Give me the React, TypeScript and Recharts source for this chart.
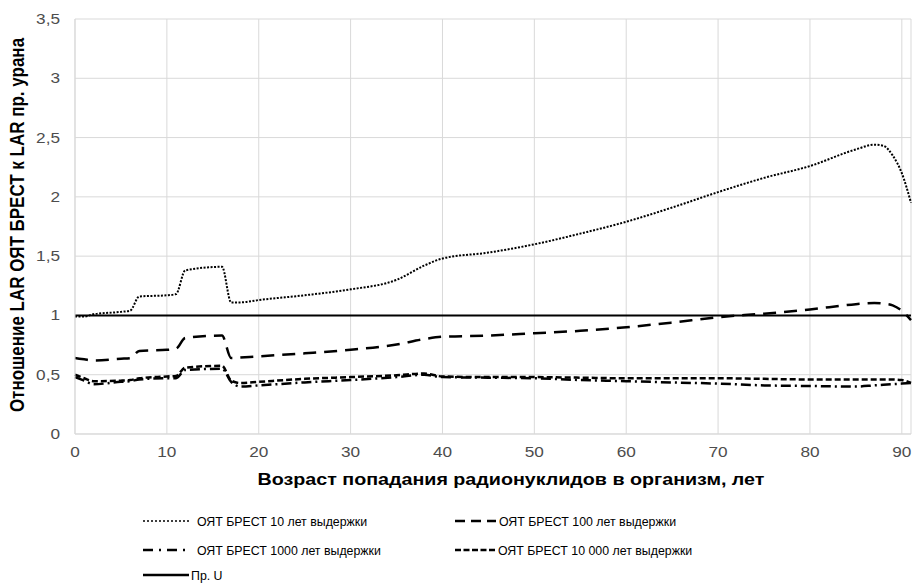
import React from "react";
import { LineChart, Line, XAxis, YAxis, CartesianGrid } from "recharts";

// Age at intake, years
const ages = [0, 1, 2, 5, 6, 7, 10, 11, 12, 16, 17, 18, 20, 25, 30, 35, 38, 40, 45, 50, 55, 60, 65, 70, 75, 80, 85, 87, 88, 89, 90, 91];

const brest10 = [0.99, 0.99, 1.01, 1.03, 1.04, 1.16, 1.17, 1.18, 1.38, 1.41, 1.11, 1.11, 1.13, 1.17, 1.22, 1.3, 1.42, 1.48, 1.53, 1.6, 1.69, 1.79, 1.91, 2.04, 2.16, 2.26, 2.4, 2.44, 2.43, 2.35, 2.2, 1.95];
const brest100 = [0.64, 0.63, 0.62, 0.635, 0.64, 0.7, 0.71, 0.72, 0.81, 0.83, 0.64, 0.645, 0.655, 0.68, 0.71, 0.755, 0.8, 0.82, 0.83, 0.85, 0.87, 0.9, 0.94, 0.985, 1.015, 1.05, 1.095, 1.105, 1.1, 1.085, 1.04, 0.96];
const brest1000 = [0.48, 0.45, 0.42, 0.44, 0.445, 0.46, 0.47, 0.47, 0.54, 0.55, 0.44, 0.4, 0.41, 0.435, 0.455, 0.48, 0.5, 0.48, 0.475, 0.47, 0.455, 0.445, 0.435, 0.425, 0.41, 0.405, 0.4, 0.41, 0.415, 0.42, 0.425, 0.43];
const brest10000 = [0.5, 0.47, 0.445, 0.45, 0.455, 0.47, 0.485, 0.49, 0.56, 0.575, 0.45, 0.43, 0.44, 0.465, 0.48, 0.495, 0.51, 0.485, 0.48, 0.48, 0.475, 0.47, 0.47, 0.47, 0.465, 0.46, 0.46, 0.46, 0.46, 0.46, 0.455, 0.43];
const uranium = ages.map(() => 1);

const xTicks = [0, 10, 20, 30, 40, 50, 60, 70, 80, 90];
const yTicks = [0, 0.5, 1, 1.5, 2, 2.5, 3, 3.5];

const data = ages.map((a, i) => ({
  age: a,
  b10: brest10[i],
  b100: brest100[i],
  b1000: brest1000[i],
  b10000: brest10000[i],
  u: uranium[i],
}));

const series = [
  { key: "b10", name: "ОЯТ БРЕСТ 10 лет выдержки", dash: "2 1.5", legendDash: "2 2", width: 2 },
  { key: "b100", name: "ОЯТ БРЕСТ 100 лет выдержки", dash: "13 8", legendDash: "10 6", width: 2.5 },
  { key: "b1000", name: "ОЯТ БРЕСТ 1000 лет выдержки", dash: "10 4 2 4", legendDash: "10 6 2 6", width: 2.5 },
  { key: "b10000", name: "ОЯТ БРЕСТ 10 000 лет выдержки", dash: "6 3", legendDash: "6 2.5", width: 2.5 },
  { key: "u", name: "Пр. U", dash: undefined, legendDash: undefined, width: 2 },
];

const font = "'Liberation Sans', Arial, sans-serif";
// axis text in the reference is a little wider than the font itself
const stretch = 1.23;

const fmt = (v: number) => String(v).replace(".", ",");

function XTick({ x, y, payload }: any) {
  return (
    <text
      transform={`translate(${x},${y + 15}) scale(${stretch},1)`}
      textAnchor="middle"
      fontSize={14}
      fill="#4d4d4d"
      fontFamily={font}
    >
      {payload.value}
    </text>
  );
}

function YTick({ x, y, payload }: any) {
  return (
    <text
      transform={`translate(${x - 7},${y + 5}) scale(${stretch},1)`}
      textAnchor="end"
      fontSize={14}
      fill="#4d4d4d"
      fontFamily={font}
    >
      {fmt(payload.value)}
    </text>
  );
}

function XTitle() {
  return (
    <text
      transform={`translate(511,485) scale(${stretch},1)`}
      textAnchor="middle"
      fontSize={16}
      fontWeight="bold"
      fill="#000"
      fontFamily={font}
    >
      Возраст попадания радионуклидов в организм, лет
    </text>
  );
}

function YTitle() {
  return (
    <text
      transform={`translate(24,225) scale(${stretch},1) rotate(-90)`}
      textAnchor="middle"
      fontSize={17}
      fontWeight="bold"
      fill="#000"
      fontFamily={font}
    >
      Отношение LAR ОЯТ БРЕСТ к LAR пр. урана
    </text>
  );
}

const legendPos = [
  { left: 143, top: 521, sample: 46, gap: 8 },
  { left: 455, top: 521, sample: 41, gap: 3 },
  { left: 143, top: 550, sample: 42, gap: 12 },
  { left: 455, top: 550, sample: 40, gap: 3 },
  { left: 143, top: 575, sample: 46, gap: 2 },
];

function LegendBox() {
  return (
    <>
      {series.map((s, i) => {
        const p = legendPos[i];
        return (
          <div
            key={s.key}
            style={{
              position: "absolute",
              left: p.left,
              top: p.top - 10,
              height: 20,
              display: "flex",
              alignItems: "center",
              fontFamily: font,
              fontSize: 13,
              color: "#000",
              whiteSpace: "nowrap",
            }}
          >
            <svg width={p.sample} height={10} style={{ marginRight: p.gap }}>
              <line
                x1={0}
                y1={5}
                x2={p.sample}
                y2={5}
                stroke="#000"
                strokeWidth={s.key === "b10" ? 1.6 : 2.5}
                strokeDasharray={s.legendDash}
              />
            </svg>
            <span
              style={{
                display: "inline-block",
                transform: "scaleX(0.95)",
                transformOrigin: "left center",
              }}
            >
              {s.name}
            </span>
          </div>
        );
      })}
    </>
  );
}

export default function App() {
  return (
    <div
      style={{
        position: "absolute",
        left: 0,
        top: 0,
        width: 915,
        height: 587,
        background: "#fff",
        overflow: "hidden",
      }}
    >
      <LineChart
        width={915}
        height={587}
        data={data}
        margin={{ top: 19, right: 4, left: 0, bottom: 103 }}
        style={{ fontFamily: font }}
      >
        <CartesianGrid stroke="#d9d9d9" strokeWidth={1} />
        <XAxis
          dataKey="age"
          type="number"
          domain={[0, 91]}
          ticks={xTicks}
          height={50}
          tickLine={false}
          axisLine={{ stroke: "#d9d9d9" }}
          tick={<XTick />}
          label={<XTitle />}
        />
        <YAxis
          type="number"
          domain={[0, 3.5]}
          ticks={yTicks}
          width={75}
          tickLine={false}
          axisLine={{ stroke: "#d9d9d9" }}
          tick={<YTick />}
          label={<YTitle />}
        />
        {series.map((s) => (
          <Line
            key={s.key}
            dataKey={s.key}
            name={s.name}
            type="monotone"
            stroke="#000"
            strokeWidth={s.width}
            strokeDasharray={s.dash}
            dot={false}
            activeDot={false}
            isAnimationActive={false}
          />
        ))}
      </LineChart>
      <LegendBox />
    </div>
  );
}
